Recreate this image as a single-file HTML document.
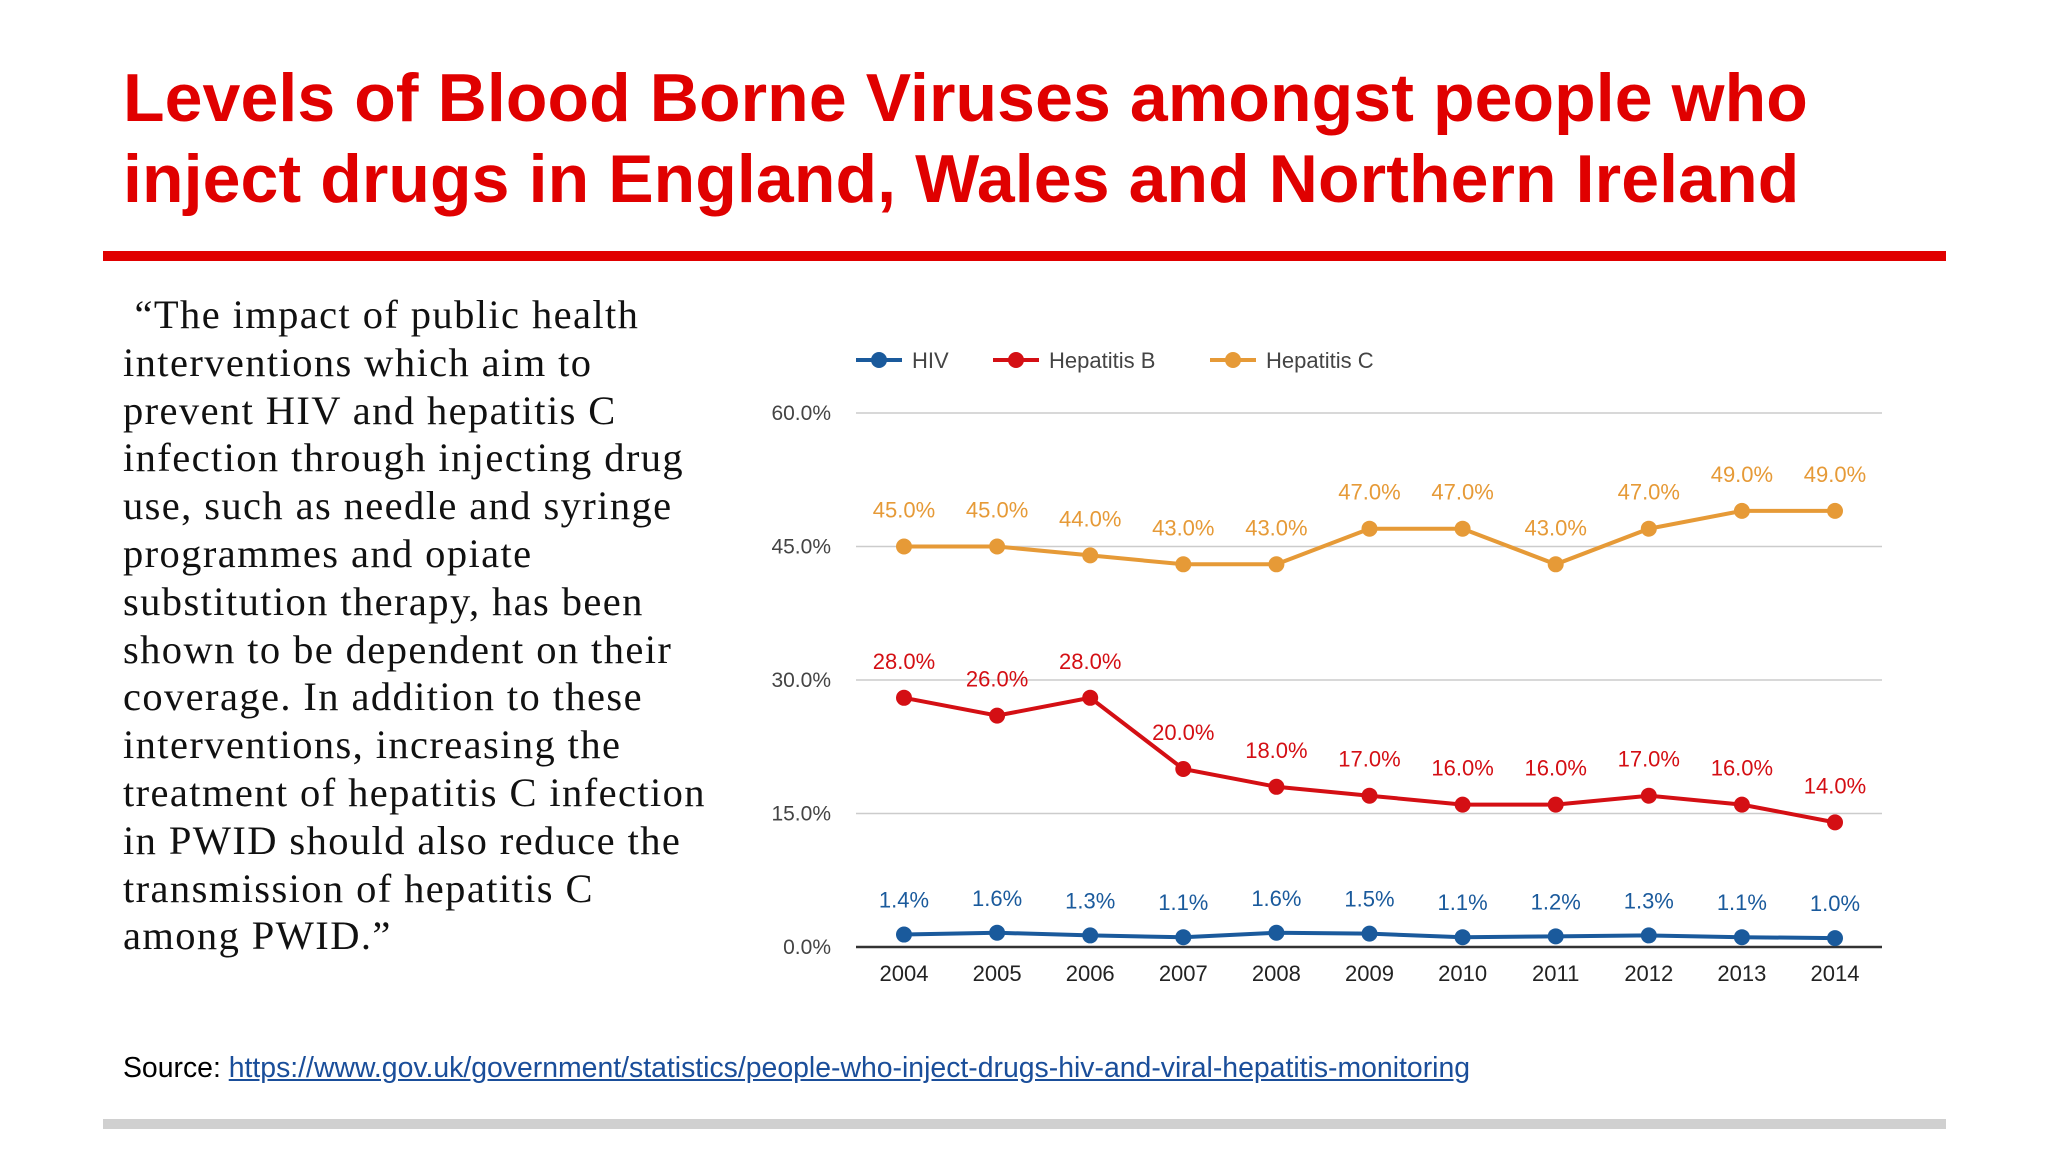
<!DOCTYPE html>
<html><head><meta charset="utf-8"><style>
body{margin:0;width:2048px;height:1152px;background:#fff;position:relative;overflow:hidden;font-family:"Liberation Sans",sans-serif}
#title{position:absolute;left:123px;top:58px;font-size:68px;font-weight:bold;color:#e00000;line-height:81px;margin:0;letter-spacing:0.1px}
#rule{position:absolute;left:103px;top:251px;width:1843px;height:10px;background:#e00000}
#body{position:absolute;left:123px;top:291px;width:585px;font-family:"Liberation Serif",serif;font-size:40.5px;letter-spacing:1.4px;line-height:47.8px;color:#111}
#source{position:absolute;left:123px;top:1052px;font-size:28.4px;color:#000}
#source a{color:#1a4e9a;text-decoration:underline}
#grey{position:absolute;left:103px;top:1119px;width:1843px;height:10px;background:#d0d0d0}
svg{position:absolute;left:0;top:0}
</style></head><body>
<h1 id="title">Levels of Blood Borne Viruses amongst people who<br>inject drugs in England, Wales and Northern Ireland</h1>
<div id="rule"></div>
<div id="body">&nbsp;“The impact of public health<br>interventions which aim to<br>prevent HIV and hepatitis C<br>infection through injecting drug<br>use, such as needle and syringe<br>programmes and opiate<br>substitution therapy, has been<br>shown to be dependent on their<br>coverage. In addition to these<br>interventions, increasing the<br>treatment of hepatitis C infection<br>in PWID should also reduce the<br>transmission of hepatitis C<br>among PWID.”</div>
<div id="source">Source: <a>https://www.gov.uk/government/statistics/people-who-inject-drugs-hiv-and-viral-hepatitis-monitoring</a></div>
<div id="grey"></div>
<svg id="chart" width="2048" height="1152"></svg>
<script>
const years=["2004","2005","2006","2007","2008","2009","2010","2011","2012","2013","2014"];
const hiv=[1.4,1.6,1.3,1.1,1.6,1.5,1.1,1.2,1.3,1.1,1.0];
const hepB=[28,26,28,20,18,17,16,16,17,16,14];
const hepC=[45,45,44,43,43,47,47,43,47,49,49];
const yTicks=[0,15,30,45,60];
const seriesNames=["HIV","Hepatitis B","Hepatitis C"];
const NS="http://www.w3.org/2000/svg";
const svg=document.getElementById('chart');
const x0=856,x1=1882,y0=947,y60=413;
const xs=i=>904+i*(1835-904)/(years.length-1);
const ys=v=>y0-(v/60)*(y0-y60);
function mk(t,a,p){const e=document.createElementNS(NS,t);for(const k in a)e.setAttribute(k,a[k]);(p||svg).appendChild(e);return e;}
yTicks.forEach(v=>{
  const l=mk('line',{x1:x0,x2:x1,y1:ys(v),y2:ys(v),stroke:v===0?'#333':'#ccc','stroke-width':v===0?2.5:1.5});
  
  
  const t=mk('text',{x:831,y:ys(v)+7,'text-anchor':'end','font-size':21,fill:'#444'});
  t.textContent=v.toFixed(1)+'%';
  
  
});
years.forEach((y,i)=>{
  const t=mk('text',{x:xs(i),y:981,'text-anchor':'middle','font-size':22,fill:'#222'});
  t.textContent=y;
  
  
});
const colors=['#1a5a9c','#d40f14','#e69a37'];
const data=[hiv,hepB,hepC];
data.forEach((d,s)=>{
  const pts=d.map((v,i)=>xs(i)+','+ys(v)).join(' ');
  const pl=mk('polyline',{points:pts,fill:'none',stroke:colors[s],'stroke-width':4});
  
  
  d.forEach((v,i)=>{
    const c=mk('circle',{cx:xs(i),cy:ys(v),r:8,fill:colors[s]});
    
    
    const off=s===0?27:29;
    const t=mk('text',{x:xs(i),y:ys(v)-off,'text-anchor':'middle','font-size':22,fill:colors[s]});
    t.textContent=v.toFixed(1)+'%';
    
    
  });
  const lx=[856,993,1210][s];
  const g=mk('g',{});
  
  
  mk('line',{x1:lx,x2:lx+46,y1:360,y2:360,stroke:colors[s],'stroke-width':4},g);
  mk('circle',{cx:lx+23,cy:360,r:8,fill:colors[s]},g);
  const t=mk('text',{x:lx+56,y:368,'font-size':22,fill:'#444'},g);
  t.textContent=seriesNames[s];
});
</script>
</body></html>
